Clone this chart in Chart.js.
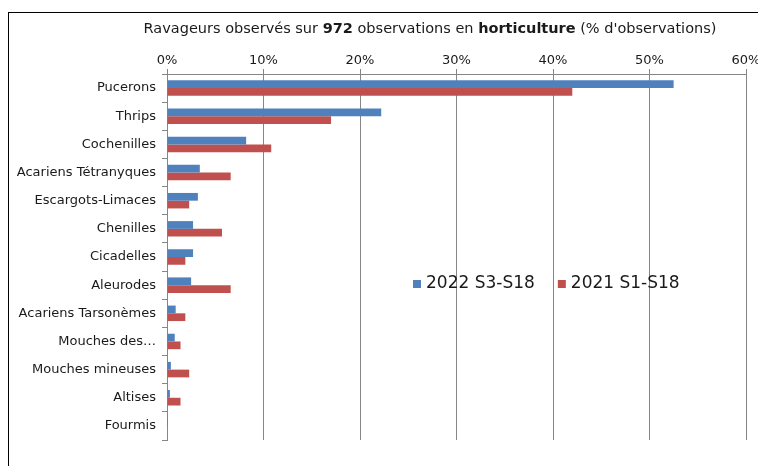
<!DOCTYPE html>
<html>
<head>
<meta charset="utf-8">
<script src="https://cdn.jsdelivr.net/npm/chart.js@4"></script>
<style>
  body { margin: 0; background: #fff; }
  #wrap { position: absolute; left: 0; top: 0; width: 758px; height: 466px; }
</style>
</head>
<body>
<div id="wrap"><canvas id="chart" width="758" height="466"></canvas></div>
<script>
// Data
const categories = ['Pucerons', 'Thrips', 'Cochenilles', 'Acariens Tétranyques', 'Escargots-Limaces',
  'Chenilles', 'Cicadelles', 'Aleurodes', 'Acariens Tarsonèmes', 'Mouches des…',
  'Mouches mineuses', 'Altises', 'Fourmis'];
const values2022 = [52.5, 22.2, 8.2, 3.4, 3.2, 2.7, 2.7, 2.5, 0.9, 0.8, 0.4, 0.3, 0.1];
const values2021 = [42.0, 17.0, 10.8, 6.6, 2.3, 5.7, 1.9, 6.6, 1.9, 1.4, 2.3, 1.4, 0];
const seriesLabels = ['2022 S3-S18', '2021 S1-S18'];
const seriesColors = ['#4F81BD', '#C0504D'];
const xTicks = [0, 10, 20, 30, 40, 50, 60];

const FONT = "'DejaVu Sans', Verdana, sans-serif";

// frame, title with bold parts, legend inside the plot
const decorPlugin = {
  id: 'decor',
  beforeDraw(chart) {
    const ctx = chart.ctx;
    ctx.save();
    ctx.strokeStyle = '#000';
    ctx.lineWidth = 1;
    ctx.strokeRect(8.5, 12.5, 800, 500);
    ctx.restore();
  },
  afterDraw(chart) {
    const ctx = chart.ctx;
    const parts = [
      ['Ravageurs observés sur ', false],
      ['972', true],
      [' observations en ', false],
      ['horticulture', true],
      [' (% d\'observations)', false]
    ];
    ctx.save();
    ctx.fillStyle = '#1a1a1a';
    ctx.textBaseline = 'middle';
    let total = 0;
    parts.forEach(p => {
      ctx.font = (p[1] ? 'bold ' : '') + '14.5px ' + FONT;
      total += ctx.measureText(p[0]).width;
    });
    let x = 430 - total / 2;
    parts.forEach(p => {
      ctx.font = (p[1] ? 'bold ' : '') + '14.5px ' + FONT;
      ctx.fillText(p[0], x, 29);
      x += ctx.measureText(p[0]).width;
    });

    ctx.font = '17px ' + FONT;
    let lx = 413;
    const ly = 284;
    seriesLabels.forEach((lab, i) => {
      ctx.fillStyle = seriesColors[i];
      ctx.fillRect(lx, ly - 4, 8, 8);
      ctx.fillStyle = '#1a1a1a';
      ctx.fillText(lab, lx + 13, ly);
      lx += 13 + ctx.measureText(lab).width + 23;
    });
    ctx.restore();
  }
};

new Chart(document.getElementById('chart'), {
  type: 'bar',
  data: {
    labels: categories,
    datasets: [
      { label: seriesLabels[0], data: values2022, backgroundColor: seriesColors[0] },
      { label: seriesLabels[1], data: values2021, backgroundColor: seriesColors[1] }
    ]
  },
  options: {
    indexAxis: 'y',
    responsive: false,
    animation: false,
    categoryPercentage: 0.55,
    barPercentage: 1,
    layout: { padding: { left: 0, top: 0, right: 12, bottom: 26 } },
    plugins: {
      legend: { display: false },
      title: { display: false },
      tooltip: { enabled: false }
    },
    scales: {
      x: {
        position: 'top',
        min: 0,
        max: 60,
        afterBuildTicks(scale) {
          scale.ticks = xTicks.map(v => ({ value: v }));
        },
        afterFit(scale) {
          scale.height = 74;
          scale.paddingRight = 0;
          scale.paddingLeft = 0;
        },
        ticks: {
          color: '#1a1a1a',
          font: { family: FONT, size: 13 },
          padding: 1,
          maxRotation: 0,
          callback: v => v + '%'
        },
        grid: { color: '#868686', tickLength: 5, tickColor: '#868686' },
        border: { color: '#868686' }
      },
      y: {
        afterFit(scale) {
          scale.width = 167;
        },
        ticks: {
          color: '#1a1a1a',
          font: { family: FONT, size: 13 },
          padding: 6,
          autoSkip: false
        },
        grid: { drawOnChartArea: false, offset: true, tickLength: 5, color: '#868686' },
        border: { color: '#868686' }
      }
    }
  },
  plugins: [decorPlugin]
});
</script>
</body>
</html>
